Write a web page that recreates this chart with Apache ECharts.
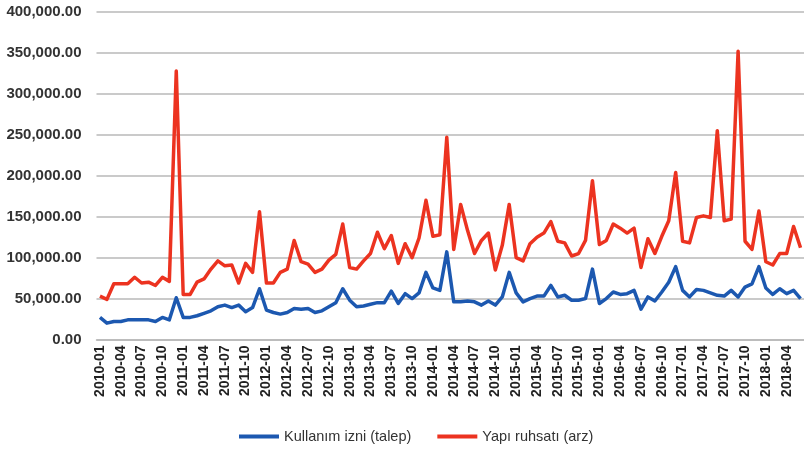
<!DOCTYPE html>
<html>
<head>
<meta charset="utf-8">
<script src="https://cdn.jsdelivr.net/npm/echarts@6/dist/echarts.min.js"></script>
<style>
  html, body { margin: 0; padding: 0; background: #ffffff; }
  #chart { width: 804px; height: 449px; }
</style>
</head>
<body>
<div id="chart"></div>
<script>
// Monthly periods, 2010-01 .. 2018-06
const months = [
  '2010-01','2010-02','2010-03','2010-04','2010-05','2010-06','2010-07','2010-08','2010-09','2010-10','2010-11','2010-12',
  '2011-01','2011-02','2011-03','2011-04','2011-05','2011-06','2011-07','2011-08','2011-09','2011-10','2011-11','2011-12',
  '2012-01','2012-02','2012-03','2012-04','2012-05','2012-06','2012-07','2012-08','2012-09','2012-10','2012-11','2012-12',
  '2013-01','2013-02','2013-03','2013-04','2013-05','2013-06','2013-07','2013-08','2013-09','2013-10','2013-11','2013-12',
  '2014-01','2014-02','2014-03','2014-04','2014-05','2014-06','2014-07','2014-08','2014-09','2014-10','2014-11','2014-12',
  '2015-01','2015-02','2015-03','2015-04','2015-05','2015-06','2015-07','2015-08','2015-09','2015-10','2015-11','2015-12',
  '2016-01','2016-02','2016-03','2016-04','2016-05','2016-06','2016-07','2016-08','2016-09','2016-10','2016-11','2016-12',
  '2017-01','2017-02','2017-03','2017-04','2017-05','2017-06','2017-07','2017-08','2017-09','2017-10','2017-11','2017-12',
  '2018-01','2018-02','2018-03','2018-04','2018-05','2018-06'
];

// Kullanım izni (talep)
const kullanimIzni = [
  27000, 20000, 22000, 22000, 24000, 24000, 24000, 24000, 22000, 27000, 24000, 51000,
  27000, 27000, 29000, 32000, 35000, 40000, 42000, 39000, 42000, 34000, 39000, 62000,
  36000, 33000, 31000, 33000, 38000, 37000, 38000, 33000, 35000, 40000, 45000, 62000,
  48000, 40000, 41000, 43000, 45000, 45000, 59000, 44000, 56000, 50000, 57000, 82000,
  63000, 60000, 107000, 46000, 46000, 47000, 46000, 42000, 47000, 42000, 52000, 82000,
  57000, 46000, 50000, 53000, 53000, 66000, 52000, 54000, 48000, 48000, 50000, 86000,
  44000, 50000, 58000, 55000, 56000, 60000, 37000, 52000, 47000, 58000, 70000, 89000,
  60000, 52000, 61000, 60000, 57000, 54000, 53000, 60000, 52000, 64000, 68000, 89000,
  63000, 55000, 62000, 56000, 60000, 50000
];

// Yapı ruhsatı (arz)
const yapiRuhsati = [
  53000, 49000, 68000, 68000, 68000, 76000, 69000, 70000, 66000, 76000, 71000, 328000,
  55000, 55000, 70000, 74000, 86000, 96000, 90000, 91000, 69000, 93000, 82000, 156000,
  69000, 69000, 82000, 86000, 121000, 95000, 92000, 82000, 86000, 97000, 104000, 141000,
  88000, 86000, 96000, 105000, 131000, 111000, 127000, 93000, 117000, 100000, 124000, 170000,
  126000, 128000, 247000, 110000, 165000, 133000, 105000, 121000, 130000, 85000, 115000, 165000,
  100000, 96000, 117000, 125000, 130000, 144000, 120000, 118000, 102000, 105000, 121000, 194000,
  116000, 121000, 141000, 136000, 130000, 136000, 88000, 123000, 105000, 126000, 145000, 204000,
  120000, 118000, 149000, 151000, 149000, 255000, 145000, 147000, 352000, 120000, 110000, 157000,
  95000, 91000, 105000, 105000, 138000, 112000
];

const seriesNames = ['Kullanım izni (talep)', 'Yapı ruhsatı (arz)'];
const seriesColors = ['#1c58b0', '#ec3320'];

const yTicks = { min: 0, max: 400000, interval: 50000 };

function formatValue(v) {
  return v.toLocaleString('en-US', { minimumFractionDigits: 2, maximumFractionDigits: 2 });
}

const chart = echarts.init(document.getElementById('chart'), null, { renderer: 'canvas' });

chart.setOption({
  animation: false,
  backgroundColor: '#ffffff',
  textStyle: { fontFamily: 'Liberation Sans, Arial, sans-serif' },
  grid: {
    left: 96.5,
    top: 12,
    width: 714,
    height: 327.5,
    containLabel: false
  },
  legend: {
    data: seriesNames,
    left: 234,
    top: 424,
    itemWidth: 40,
    itemHeight: 4,
    itemGap: 26,
    icon: 'rect',
    textStyle: { fontSize: 14.5, color: '#333333', fontFamily: 'Liberation Sans, Arial, sans-serif' }
  },
  xAxis: {
    type: 'category',
    data: months,
    boundaryGap: true,
    axisLine: { show: true, lineStyle: { color: '#b8b8b8', width: 1.5 } },
    axisTick: { show: false },
    axisLabel: {
      interval: 2,
      rotate: 90,
      margin: 6,
      fontSize: 14,
      fontWeight: 'bold',
      color: '#222222',
      fontFamily: 'Liberation Sans, Arial, sans-serif'
    },
    splitLine: { show: false }
  },
  yAxis: {
    type: 'value',
    min: yTicks.min,
    max: yTicks.max,
    interval: yTicks.interval,
    axisLine: { show: false },
    axisTick: { show: false },
    axisLabel: {
      formatter: formatValue,
      margin: 15,
      fontSize: 15,
      fontWeight: 'bold',
      color: '#333333',
      fontFamily: 'Liberation Sans, Arial, sans-serif'
    },
    splitLine: { show: true, lineStyle: { color: '#b8b8b8', width: 1.5 } }
  },
  series: [
    {
      name: seriesNames[0],
      type: 'line',
      data: kullanimIzni,
      showSymbol: false,
      symbol: 'none',
      lineStyle: { color: seriesColors[0], width: 3.5, join: 'round' },
      itemStyle: { color: seriesColors[0] },
      z: 3
    },
    {
      name: seriesNames[1],
      type: 'line',
      data: yapiRuhsati,
      showSymbol: false,
      symbol: 'none',
      lineStyle: { color: seriesColors[1], width: 3.5, join: 'round' },
      itemStyle: { color: seriesColors[1] },
      z: 2
    }
  ]
});
</script>
</body>
</html>
